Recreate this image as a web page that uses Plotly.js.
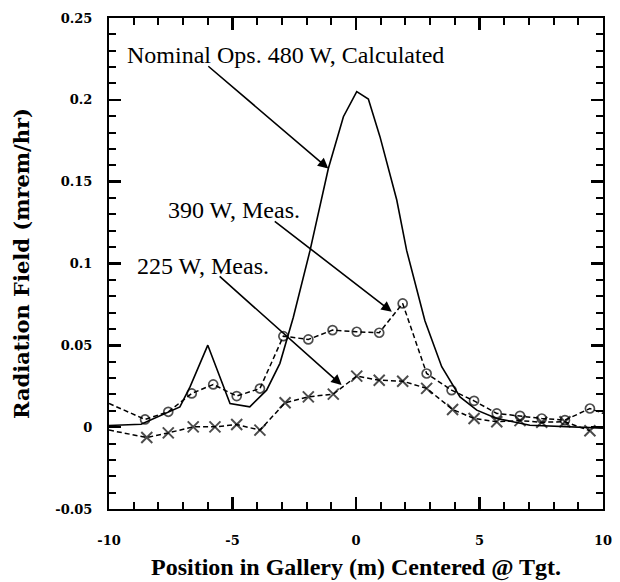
<!DOCTYPE html>
<html>
<head>
<meta charset="utf-8">
<script src="https://cdn.plot.ly/plotly-3.0.1.min.js"></script>
<style>html,body{margin:0;padding:0;background:#fff;}#chart{width:620px;height:582px;}</style>
</head>
<body>
<div id="chart"></div>
<script>
// Calculated (480 W nominal)
var calcX = [-10, -8.7, -7.13, -6.72, -6.0, -5.1, -4.3, -3.62, -3.08, -2.54, -1.86, -1.12, -0.51, 0.03, 0.5, 0.97, 1.65, 2.05, 2.79, 3.47, 4.21, 4.89, 5.7, 7.04, 10];
var calcY = [0.001, 0.0018, 0.0124, 0.0246, 0.0501, 0.0145, 0.0124, 0.0226, 0.039, 0.067, 0.108, 0.158, 0.1897, 0.205, 0.2005, 0.1775, 0.1388, 0.108, 0.065, 0.0369, 0.0185, 0.0104, 0.0053, 0.0012, -0.0006];

// 390 W measured (circles); first and last entries are line ends without a marker
var m390X = [-10, -8.54, -7.6, -6.65, -5.78, -4.83, -3.89, -2.94, -1.93, -0.95, 0.03, 0.94, 1.89, 2.86, 3.87, 4.78, 5.7, 6.64, 7.52, 8.46, 9.47, 10];
var m390Y = [0.0145, 0.0047, 0.0094, 0.0206, 0.0261, 0.019, 0.0236, 0.0556, 0.0536, 0.0593, 0.0583, 0.0577, 0.0756, 0.0328, 0.0226, 0.0161, 0.0084, 0.0069, 0.0053, 0.0043, 0.0114, 0.0084];

// 225 W measured (crosses); first entry is a line end without a marker
var m225X = [-10, -8.47, -7.6, -6.59, -5.71, -4.83, -3.89, -2.87, -1.93, -0.92, 0.03, 0.94, 1.89, 2.86, 3.91, 4.78, 5.7, 6.64, 7.52, 8.46, 9.47];
var m225Y = [-0.0018, -0.0063, -0.0035, 0.0002, 0.0002, 0.0016, -0.0018, 0.0149, 0.0185, 0.0202, 0.0312, 0.0287, 0.0281, 0.0237, 0.0108, 0.0053, 0.0033, 0.004, 0.003, 0.0033, -0.0022];

var xTickVals = [-10, -5, 0, 5, 10];
var xTickText = ['-10', '-5', '0', '5', '10'];
var yTickVals = [-0.05, 0, 0.05, 0.1, 0.15, 0.2, 0.25];
var yTickText = ['-0.05', '0', '0.05', '0.1', '0.15', '0.2', '0.25'];

var labels = ['Nominal Ops. 480 W, Calculated', '390 W, Meas.', '225 W, Meas.'];
var labelX = [-9.35, -7.69, -8.95];
var labelY = [0.2274, 0.1326, 0.0984];
var arrowTailX = [-6.04, -3.35, -5.58];
var arrowTailY = [0.2213, 0.1265, 0.0929];
var arrowTipX = [-1.12, 1.45, -0.58];
var arrowTipY = [0.158, 0.0705, 0.0257];

function sizes(n, s, skipLast) {
  var a = [];
  for (var i = 0; i < n; i++) a.push((i === 0 || (skipLast && i === n - 1)) ? 0 : s);
  return a;
}
function bold(arr) { return arr.map(function (t) { return '<b>' + t + '</b>'; }); }

var traces = [
  {x: calcX, y: calcY, mode: 'lines', line: {color: 'black', width: 1.6}},
  {x: m390X, y: m390Y, mode: 'lines+markers',
   line: {color: 'black', width: 1.5, dash: '5px,3px'},
   marker: {symbol: 'circle-open', size: sizes(m390X.length, 9, true), color: 'black', line: {width: 1.7, color: 'black'}}},
  {x: m225X, y: m225Y, mode: 'lines+markers',
   line: {color: 'black', width: 1.5, dash: '5px,3px'},
   marker: {symbol: 'x-thin-open', size: sizes(m225X.length, 11, false), color: 'black', line: {width: 2, color: 'black'}}}
];

var annotations = [];
for (var i = 0; i < labels.length; i++) {
  annotations.push({x: labelX[i], y: labelY[i], xref: 'x', yref: 'y', text: labels[i], showarrow: false,
    xanchor: 'left', yanchor: 'middle', font: {family: 'Liberation Serif', size: 24, color: 'black'}});
  annotations.push({x: arrowTipX[i], y: arrowTipY[i], ax: arrowTailX[i], ay: arrowTailY[i], xref: 'x', yref: 'y',
    axref: 'x', ayref: 'y', text: '', showarrow: true, arrowhead: 2, arrowsize: 1.3, arrowwidth: 1.6, arrowcolor: 'black'});
}

var layout = {
  width: 620, height: 582,
  margin: {l: 109, r: 17, t: 18, b: 73},
  showlegend: false,
  xaxis: {range: [-10, 10], tickvals: xTickVals, ticktext: bold(xTickText),
    ticks: 'inside', ticklen: 12, tickwidth: 2.5, tickcolor: 'black',
    minor: {dtick: 1, ticks: 'inside', ticklen: 7, tickwidth: 2, tickcolor: 'black'},
    showline: true, linewidth: 2, linecolor: 'black', mirror: 'ticks', showgrid: false, zeroline: false,
    tickfont: {family: 'DejaVu Serif', size: 13, color: 'black'}, ticklabelstandoff: 18,
    title: {text: '<b>Position in Gallery (m) Centered @ Tgt.</b>', font: {family: 'Liberation Serif', size: 24, color: 'black'}, standoff: 12}},
  yaxis: {range: [-0.05, 0.25], tickvals: yTickVals, ticktext: bold(yTickText),
    ticks: 'inside', ticklen: 12, tickwidth: 2.5, tickcolor: 'black',
    minor: {dtick: 0.01, ticks: 'inside', ticklen: 7, tickwidth: 2, tickcolor: 'black'},
    showline: true, linewidth: 2, linecolor: 'black', mirror: 'ticks', showgrid: false, zeroline: false,
    tickfont: {family: 'DejaVu Serif', size: 13, color: 'black'}, ticklabelstandoff: 12,
    title: {text: '<b>Radiation Field (mrem/hr)</b>', font: {family: 'DejaVu Serif', size: 21, color: 'black'}, standoff: 20}},
  annotations: annotations
};
Plotly.newPlot('chart', traces, layout, {displayModeBar: false, staticPlot: true});
</script>
</body>
</html>
